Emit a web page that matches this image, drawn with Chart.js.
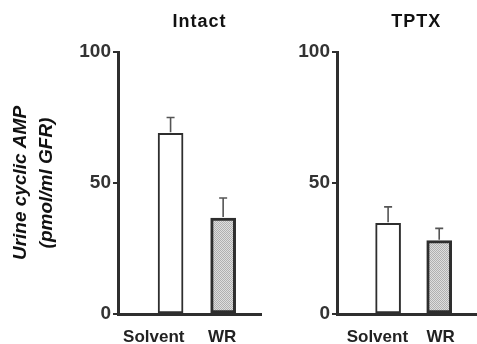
<!DOCTYPE html>
<html>
<head>
<meta charset="utf-8">
<script src="https://cdn.jsdelivr.net/npm/chart.js@4"></script>
<style>
  html, body { margin: 0; padding: 0; background: #fff; }
  #wrap { position: relative; width: 477px; height: 344px; overflow: hidden; }
  #leftBox { position: absolute; left: 0; top: 0; width: 262px; height: 344px; }
  #rightBox { position: absolute; left: 262px; top: 0; width: 215px; height: 344px; }
</style>
</head>
<body>
<div id="wrap">
  <div id="leftBox"><canvas id="intactChart"></canvas></div>
  <div id="rightBox"><canvas id="tptxChart"></canvas></div>
</div>
<script>
// data
const groups = ["Solvent", "WR"];
const panelTitles = ["Intact", "TPTX"];
const intactMean = [69, 36.6];
const intactSem = [6, 7.7];
const tptxMean = [34.6, 28];
const tptxSem = [6.3, 4.7];
const yTicks = [0, 50, 100];
const yTitle = ["Urine cyclic AMP", "(pmol/ml GFR)"];

const INK = '#2e2e2e';
const FONT = "'Liberation Sans', Arial, sans-serif";

function stipple() {
  let c = document.createElement('canvas'); c.width = 2; c.height = 2;
  let g = c.getContext('2d');
  g.fillStyle = '#dedede'; g.fillRect(0, 0, 2, 2);
  g.fillStyle = '#b0b0b0'; g.fillRect(0, 0, 1, 1); g.fillRect(1, 1, 1, 1);
  return g.createPattern(c, 'repeat');
}

// upward-only error bars + panel title, drawn through the chart's scales
const extras = {
  id: 'extras',
  afterDatasetsDraw(chart, args, opts) {
    let ctx = chart.ctx, xs = chart.scales.x, ys = chart.scales.y;
    let ds = chart.data.datasets[0];
    ctx.save();
    ctx.strokeStyle = '#555'; ctx.lineWidth = 1.6;
    ds.data.forEach((p, i) => {
      let x = xs.getPixelForValue(p.x), y0 = ys.getPixelForValue(p.y), y1 = ys.getPixelForValue(p.y + opts.sem[i]);
      ctx.beginPath(); ctx.moveTo(x, y0 - 1); ctx.lineTo(x, y1);
      ctx.moveTo(x - 4, y1); ctx.lineTo(x + 4, y1); ctx.stroke();
    });
    ctx.fillStyle = '#111'; ctx.font = "bold 18px " + FONT; ctx.textAlign = 'center'; ctx.textBaseline = 'middle';
    ctx.letterSpacing = '1px';
    ctx.fillText(opts.title, xs.getPixelForValue(1.55), 22);
    ctx.restore();
  }
};

function makePanel(id, means, sem, title, axisWidth, showTitle, labelAt) {
  let fills = ['#ffffff', stipple()];
  return new Chart(document.getElementById(id), {
    type: 'bar',
    data: {
      datasets: [{
        data: means.map((v, i) => ({ x: i + 1, y: v })),
        backgroundColor: fills,
        borderColor: INK,
        borderWidth: [2, 3],
        borderSkipped: false,
        barThickness: 25
      }]
    },
    options: {
      responsive: true, maintainAspectRatio: false, animation: false,
      layout: { padding: { top: 52, right: 1, left: 0, bottom: 0 } },
      plugins: { legend: { display: false }, tooltip: { enabled: false }, extras: { sem: sem, title: title } },
      scales: {
        x: {
          type: 'linear', min: 0, max: 2.72, offset: false,
          afterBuildTicks: s => { s.ticks = labelAt.map(v => ({ value: v })); },
          afterFit: s => { s.height = 30; },
          ticks: { callback: (v, i) => groups[i], color: '#222', font: { family: FONT, size: 17, weight: 'bold' }, padding: 13, maxRotation: 0, autoSkip: false },
          grid: { display: false, drawTicks: false, offset: false },
          border: { display: true, color: INK, width: 3 }
        },
        y: {
          min: 0, max: 100,
          afterBuildTicks: s => { s.ticks = yTicks.map(v => ({ value: v })); },
          afterFit: s => { s.width = axisWidth; },
          ticks: { color: '#333', font: { family: FONT, size: 19, weight: 'bold' }, padding: 2 },
          grid: { drawOnChartArea: false, tickLength: 5, color: INK, lineWidth: 2 },
          border: { display: true, color: INK, width: 3 },
          title: {
            display: showTitle, text: yTitle, color: '#111',
            font: { family: FONT, size: 19, weight: 'bold', style: 'italic', lineHeight: 1.4 },
            padding: { top: 7, bottom: 0 }
          }
        }
      }
    },
    plugins: [extras]
  });
}

makePanel('intactChart', intactMean, intactSem, panelTitles[0], 118, true, [0.68, 1.98]);
makePanel('tptxChart', tptxMean, tptxSem, panelTitles[1], 75, false, [0.79, 2.03]);
</script>
</body>
</html>
